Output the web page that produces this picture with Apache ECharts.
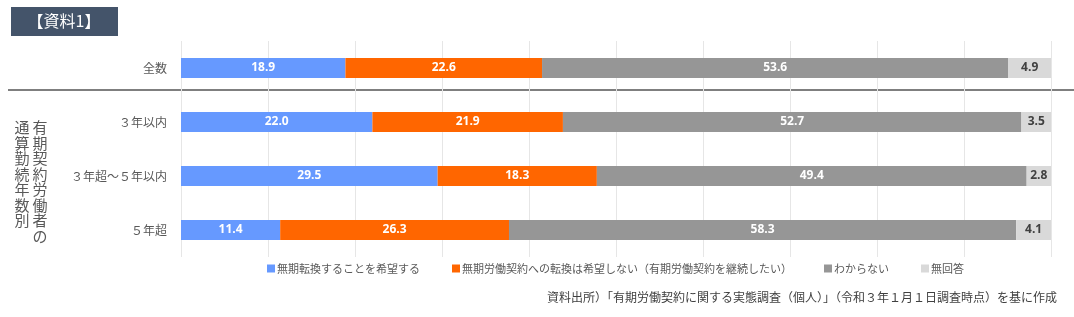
<!DOCTYPE html>
<html>
<head>
<meta charset="utf-8">
<script src="https://cdn.jsdelivr.net/npm/echarts@6/dist/echarts.min.js"></script>
<style>
  html, body { margin: 0; padding: 0; background: #fff; }
  #main { width: 1074px; height: 317px; }
</style>
</head>
<body>
<div id="main"></div>
<script>
const categories = ['全数', '３年以内', '３年超～５年以内', '５年超'];
const seriesNames = [
  '無期転換することを希望する',
  '無期労働契約への転換は希望しない（有期労働契約を継続したい）',
  'わからない',
  '無回答'
];
const wantConvert = [18.9, 22.0, 29.5, 11.4];
const notWant = [22.6, 21.9, 18.3, 26.3];
const dontKnow = [53.6, 52.7, 49.4, 58.3];
const noAnswer = [4.9, 3.5, 2.8, 4.1];

const colors = ['#6699FF', '#FF6600', '#969696', '#D9D9D9'];
const jp = '"Noto Sans CJK JP", "Noto Sans", sans-serif';
const num = '"Open Sans", "Noto Sans", sans-serif';

const vert = s => s.split('').join('\n');

const makeSeries = (name, data, i) => ({
  name: name,
  type: 'bar',
  stack: 'total',
  barWidth: 20,
  data: data,
  itemStyle: { color: colors[i] },
  label: {
    show: true,
    position: 'inside',
    formatter: p => p.value.toFixed(1),
    color: i === 3 ? '#404040' : '#fff',
    fontFamily: num,
    fontWeight: 'bold',
    fontSize: 12
  }
});

const myChart = echarts.init(document.getElementById('main'));
myChart.setOption({
  animation: false,
  grid: { left: 181, right: 23, top: 41, height: 216 },
  xAxis: {
    type: 'value',
    min: 0,
    max: 100,
    interval: 10,
    axisLabel: { show: false },
    axisLine: { show: false },
    axisTick: { show: false },
    splitLine: { lineStyle: { color: '#e6e6e6', width: 1 } }
  },
  yAxis: {
    type: 'category',
    inverse: true,
    data: categories,
    axisLine: { show: false },
    axisTick: { show: false },
    axisLabel: {
      color: '#595959', fontFamily: jp, fontSize: 12, margin: 14,
      formatter: v => v === '全数' ? '{t|' + v + '}' : v,
      rich: { t: { color: '#595959', fontFamily: jp, fontSize: 12, padding: [0, 0, 0, 0], width: 18 } }
    }
  },
  legend: {
    bottom: 38,
    left: 262,
    icon: 'rect',
    itemWidth: 8,
    itemHeight: 8,
    itemGap: 32,
    textStyle: { color: '#595959', fontFamily: jp, fontSize: 11, padding: [0, 0, 0, -3] },
    data: seriesNames
  },
  graphic: [
    { type: 'rect', shape: { x: 11, y: 7, width: 107, height: 29 }, style: { fill: '#44546A' } },
    { type: 'text', x: 64, y: 21, style: { text: '【資料1】', fill: '#fff', font: '16px ' + jp, align: 'center', verticalAlign: 'middle' } },
    { type: 'line', shape: { x1: 8, y1: 90, x2: 1074, y2: 90 }, style: { stroke: '#7f7f7f', lineWidth: 2 } },
    { type: 'text', x: 40, y: 120, style: { text: vert('有期契約労働者の'), fill: '#595959', font: '15px ' + jp, align: 'center', lineHeight: 15.5 } },
    { type: 'text', x: 22, y: 120, style: { text: vert('通算勤続年数別'), fill: '#595959', font: '15px ' + jp, align: 'center', lineHeight: 15.5 } },
    { type: 'text', right: 17, top: 291, style: { text: '資料出所）「有期労働契約に関する実態調査（個人）」（令和３年１月１日調査時点）を基に作成', fill: '#404040', font: '12px ' + jp } }
  ],
  series: [
    makeSeries(seriesNames[0], wantConvert, 0),
    makeSeries(seriesNames[1], notWant, 1),
    makeSeries(seriesNames[2], dontKnow, 2),
    makeSeries(seriesNames[3], noAnswer, 3)
  ]
});
</script>
</body>
</html>
